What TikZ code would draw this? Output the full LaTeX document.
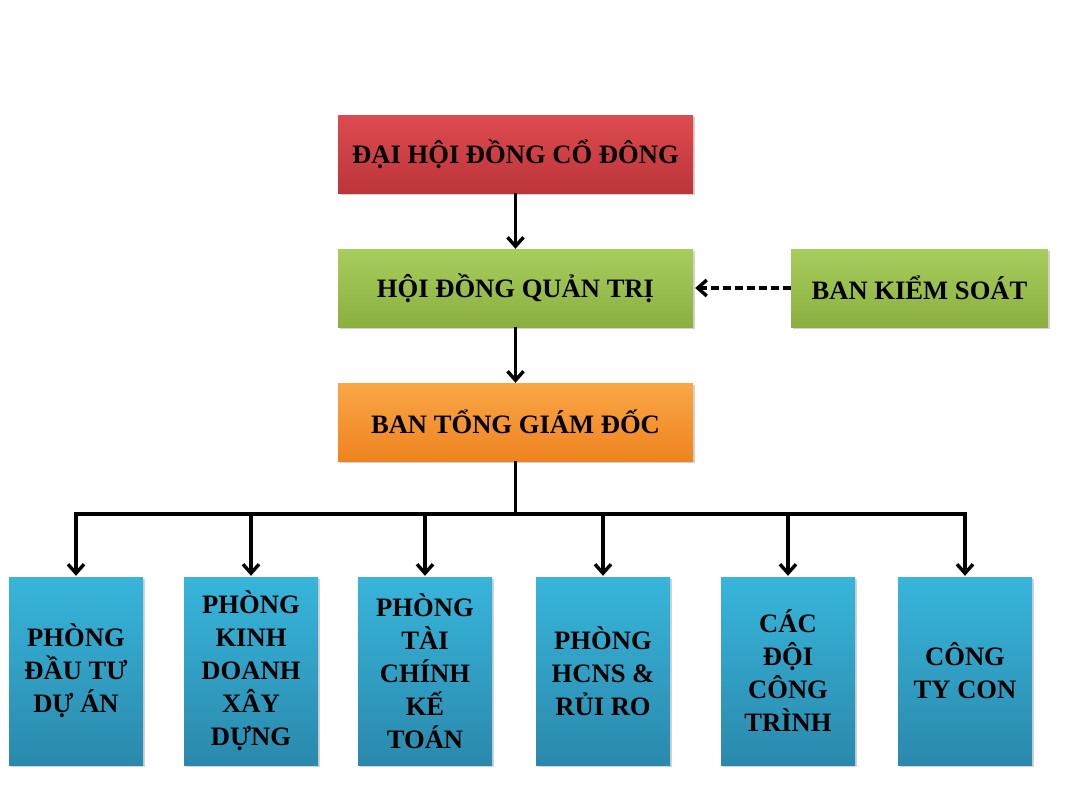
\documentclass[tikz,border=0pt]{standalone}
\usepackage{fontspec}
\setmainfont{Liberation Serif}
\usetikzlibrary{arrows.meta,shadows}
\definecolor{redT}{HTML}{DE4B50}
\definecolor{redB}{HTML}{BC3539}
\definecolor{grnT}{HTML}{A8CD5C}
\definecolor{grnB}{HTML}{8BB03F}
\definecolor{orgT}{HTML}{FAA645}
\definecolor{orgB}{HTML}{EE8420}
\definecolor{bluT}{HTML}{38B5DB}
\definecolor{bluB}{HTML}{2A89AC}
\tikzset{
  box/.style={draw=none, inner sep=0pt, align=center,
    font=\fontsize{26.6}{33}\selectfont\bfseries,
    drop shadow={opacity=0.35, shadow xshift=2pt, shadow yshift=-2pt}},
  wide/.style={box, minimum width=355pt, minimum height=78pt},
  side/.style={box, minimum width=257pt, minimum height=78pt},
  dept/.style={box, minimum width=134pt, minimum height=188pt, top color=bluT, bottom color=bluB},
  redbox/.style={top color=redT, bottom color=redB},
  grnbox/.style={top color=grnT, bottom color=grnB},
  orgbox/.style={top color=orgT, bottom color=orgB},
  arr/.style={line width=3.4pt, -{Straight Barb[length=9pt,width=16pt,line width=3.4pt]}},
  conn/.style={line width=3.4pt},
  darr/.style={arr, dash pattern=on 8pt off 4pt}
}
\begin{document}
\begin{tikzpicture}[x=1pt,y=-1pt]
\useasboundingbox (0,0) rectangle (1067,800);
\node[wide,redbox] (dh) at (515.5,154) {ĐẠI HỘI ĐỒNG CỔ ĐÔNG};
\node[wide,grnbox] (hd) at (515.5,288) {HỘI ĐỒNG QUẢN TRỊ};
\node[side,grnbox] (bks) at (919.5,288) {BAN KIỂM SOÁT};
\node[wide,orgbox] (tgd) at (515.5,422) {BAN TỔNG GIÁM ĐỐC};
\node[dept] (b1) at (76,671) {PHÒNG\\ĐẦU TƯ\\DỰ ÁN};
\node[dept] (b2) at (251,671) {PHÒNG\\KINH\\DOANH\\XÂY\\DỰNG};
\node[dept] (b3) at (425,671) {PHÒNG\\TÀI\\CHÍNH\\KẾ\\TOÁN};
\node[dept] (b4) at (603,671) {PHÒNG\\HCNS \&\\RỦI RO};
\node[dept] (b5) at (788,671) {CÁC\\ĐỘI\\CÔNG\\TRÌNH};
\node[dept] (b6) at (965,671) {CÔNG\\TY CON};
\coordinate (bus) at (515.5,514);
\draw[arr] (dh.south) -- (hd.north);
\draw[arr] (hd.south) -- (tgd.north);
\draw[darr] (bks.west) -- ([xshift=2pt]hd.east);
\draw[conn] (tgd.south) -- (bus);
\draw[conn, line cap=rect] (b1.north |- bus) -- (b6.north |- bus);
\foreach \b in {b1,b2,b3,b4,b5,b6}
  \draw[arr] (\b.north |- bus) -- ([yshift=1pt]\b.north);
\end{tikzpicture}
\end{document}
